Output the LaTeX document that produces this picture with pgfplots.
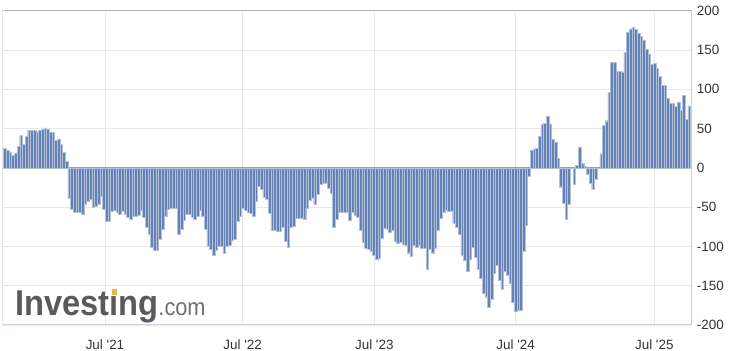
\documentclass[border=0pt]{standalone}
\usepackage{fontspec}
\setmainfont{Liberation Sans}
\newfontfamily\logofont{Liberation Sans}
\usepackage{graphicx}
\usepackage{pgfplots}
\pgfplotsset{compat=1.18}
\definecolor{barblue}{HTML}{6682B4}
\definecolor{baredge}{HTML}{B3C2DC}
\definecolor{gridgray}{HTML}{E8E8E8}
\definecolor{zerogray}{HTML}{A6A6A6}
\definecolor{framegray}{HTML}{B4B4B4}
\definecolor{bottomline}{HTML}{C9D3E1}
\definecolor{ticktext}{HTML}{333333}
\definecolor{logogray}{HTML}{5A5A5A}
\definecolor{logocom}{HTML}{707070}
\definecolor{logodot}{HTML}{F2B43C}
\newcommand{\apos}{\XeTeXglyph\XeTeXcharglyph"27\relax}
\begin{document}
\begin{tikzpicture}
\useasboundingbox (0,0) rectangle (730bp,351bp);
\begin{axis}[
  at={(2.7bp,26bp)}, anchor=south west,
  scale only axis, width=689bp, height=314.3bp,
  xmin=-0.86, xmax=256.9, ymin=-200, ymax=200,
  axis line style={draw=none},
  ytick={-200,-150,...,200},
  yticklabels={-200,-150,-100,-50,0,50,100,150,200},
  yticklabel pos=right,
  xtick={37.41,88.93,138.16,191.06,242.91},
  xticklabels={Jul \apos21,Jul \apos22,Jul \apos23,Jul \apos24,Jul \apos25},
  major tick length=0pt,
  tick style={draw=none},
  xmajorgrids, ymajorgrids,
  grid style={gridgray, line width=0.9bp},
  extra y ticks={0}, extra y tick labels={},
  extra y tick style={grid style={zerogray, line width=0.9bp}},
  yticklabel style={font=\fontsize{13.5}{16}\selectfont, text=ticktext, anchor=west, inner sep=0pt, xshift=5bp},
  xticklabel style={font=\fontsize{13.5}{16}\selectfont, text=ticktext, anchor=base, inner sep=0pt, yshift=-24.5bp},
]
\addplot[ybar, bar width=1, bar shift=0pt, fill=barblue, draw=baredge, line width=0.4bp]
  table[x expr=\coordindex, y index=0, header=false, row sep=\\] {
25\\22\\20\\16\\19\\27\\41\\30\\40\\48\\48\\48\\46\\48\\49\\51\\49\\45\\45\\35\\37\\30\\20\\8\\
-39\\-53\\-57\\-56\\-57\\-59\\-46\\-42\\
-40\\-50\\-49\\-46\\-36\\-53\\-68\\-68\\-55\\-54\\-56\\-59\\-55\\-59\\-63\\-65\\-62\\-61\\-60\\-54\\-63\\-75\\-84\\-101\\-105\\-105\\-91\\-78\\-62\\-53\\-51\\-51\\-51\\
-85\\-78\\-67\\-59\\-59\\-63\\-65\\-61\\-54\\-61\\-78\\-100\\-103\\-111\\-105\\-100\\-100\\-109\\-100\\-98\\-92\\-91\\-68\\-62\\-51\\-54\\-57\\-58\\-61\\-42\\-23\\-27\\
-37\\-40\\-58\\-79\\-79\\-81\\-81\\-76\\-93\\-101\\-76\\-74\\-64\\-64\\-64\\-65\\-51\\-41\\-38\\-46\\-34\\-21\\-20\\-19\\-26\\-32\\-75\\-65\\-56\\-56\\-56\\-56\\-67\\
-57\\-60\\-63\\-79\\-95\\-102\\-103\\-106\\-111\\-116\\-115\\-89\\-77\\-78\\-82\\-79\\-93\\-96\\-95\\-97\\-99\\-108\\-112\\-99\\-101\\-98\\-102\\-102\\-129\\-103\\-108\\-102\\
-79\\-64\\-57\\-54\\-55\\-55\\-70\\-76\\-84\\-111\\-118\\-131\\-116\\-101\\-114\\-129\\-141\\-159\\-164\\-177\\-167\\-134\\-124\\-143\\-154\\-131\\-137\\-147\\-171\\-182\\-181\\-181\\
-106\\-73\\-11\\
22\\24\\25\\40\\55\\57\\66\\56\\36\\33\\12\\-24\\-45\\-65\\-46\\0\\-21\\3\\26\\6\\2\\-8\\-19\\-27\\-14\\0\\18\\
54\\60\\96\\134\\134\\123\\123\\122\\147\\172\\177\\179\\176\\171\\167\\163\\151\\145\\132\\133\\127\\116\\105\\105\\89\\82\\82\\78\\84\\73\\92\\62\\79\\
};
\draw[framegray, line width=0.9bp] (rel axis cs:0,0) -- (rel axis cs:0,1) -- (rel axis cs:1,1) -- (rel axis cs:1,0);
\draw[bottomline, line width=2bp] (rel axis cs:0,0) -- (rel axis cs:1,0);
\end{axis}
\node[anchor=base west, inner sep=0pt] at (15bp,36bp) {\scalebox{0.91}[1]{\logofont\fontsize{36}{36}\selectfont\bfseries\color{logogray}Invest\rlap{\kern0.075em\color{logodot}\rule[0.57em]{0.16em}{0.16em}}ıng{\mdseries\fontsize{24}{24}\selectfont\color{logocom}.com}}};
\end{tikzpicture}
\end{document}
